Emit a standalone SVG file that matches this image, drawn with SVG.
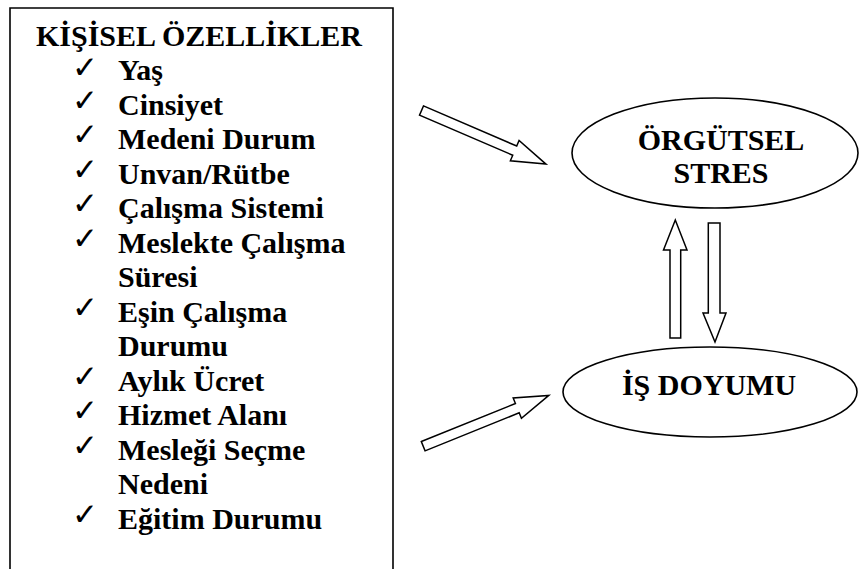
<svg xmlns="http://www.w3.org/2000/svg" width="861" height="569" viewBox="0 0 861 569">
  <style>
    .t { font-family: "Liberation Serif", "Times New Roman", serif; font-weight: bold; font-size: 30px; fill: #000; }
    .ck { font-family: "DejaVu Sans", sans-serif; font-size: 31px; fill: #000; }
    .shape { fill: #fff; stroke: #000; stroke-width: 1.6; }
    .blk { fill: #fff; stroke: #000; stroke-width: 1.5; stroke-linejoin: miter; }
  </style>
  <defs>
    <!-- block arrow pointing along +x, tail at origin -->
    <polygon id="blockArrow" points="0,-5 101.5,-5 101.5,-11 135.5,0 101.5,11 101.5,5 0,5"/>
  </defs>

  <rect width="861" height="569" fill="#fff"/>

  <!-- personal characteristics list -->
  <g id="kisisel">
    <path class="shape" d="M10,580 V8 H393 V580" fill="none"/>
    <text class="t" x="36" y="46">KİŞİSEL ÖZELLİKLER</text>
    <g class="ck" transform="translate(0,-4)">
      <text x="72" y="81.5">✓</text>
      <text x="72" y="114.5">✓</text>
      <text x="72" y="149">✓</text>
      <text x="72" y="183.5">✓</text>
      <text x="72" y="218">✓</text>
      <text x="72" y="252.5">✓</text>
      <text x="72" y="321.5">✓</text>
      <text x="72" y="390.5">✓</text>
      <text x="72" y="425">✓</text>
      <text x="72" y="459.5">✓</text>
      <text x="72" y="528.5">✓</text>
    </g>
    <g class="t">
      <text x="118" y="80">Yaş</text>
      <text x="118" y="114.5">Cinsiyet</text>
      <text x="118" y="149">Medeni Durum</text>
      <text x="118" y="183.5">Unvan/Rütbe</text>
      <text x="118" y="218">Çalışma Sistemi</text>
      <text x="118" y="252.5">Meslekte Çalışma</text>
      <text x="118" y="287">Süresi</text>
      <text x="118" y="321.5">Eşin Çalışma</text>
      <text x="118" y="356">Durumu</text>
      <text x="118" y="390.5">Aylık Ücret</text>
      <text x="118" y="425">Hizmet Alanı</text>
      <text x="118" y="459.5">Mesleği Seçme</text>
      <text x="118" y="494">Nedeni</text>
      <text x="118" y="528.5">Eğitim Durumu</text>
    </g>
  </g>

  <!-- organisational stress -->
  <g id="orgutsel-stres">
    <ellipse class="shape" cx="715" cy="153" rx="143" ry="55"/>
    <text class="t" x="721" y="150" text-anchor="middle">ÖRGÜTSEL</text>
    <text class="t" x="721" y="183" text-anchor="middle">STRES</text>
  </g>

  <!-- job satisfaction -->
  <g id="is-doyumu">
    <ellipse class="shape" cx="710" cy="392" rx="147" ry="45"/>
    <text class="t" x="709" y="395" text-anchor="middle">İŞ DOYUMU</text>
  </g>

  <!-- connectors -->
  <g id="connectors">
    <use href="#blockArrow" class="blk" transform="translate(421.5,110.5) rotate(23.3)"/>
    <use href="#blockArrow" class="blk" transform="translate(423.2,446.2) rotate(-22)"/>
    <polygon class="blk" points="670,338 670,250 663.5,250 675.3,220 687,250 680.7,250 680.7,338"/>
    <polygon class="blk" points="708.3,223 720,223 720,313 726,313 715,342 703,313 708.3,313"/>
  </g>
</svg>
